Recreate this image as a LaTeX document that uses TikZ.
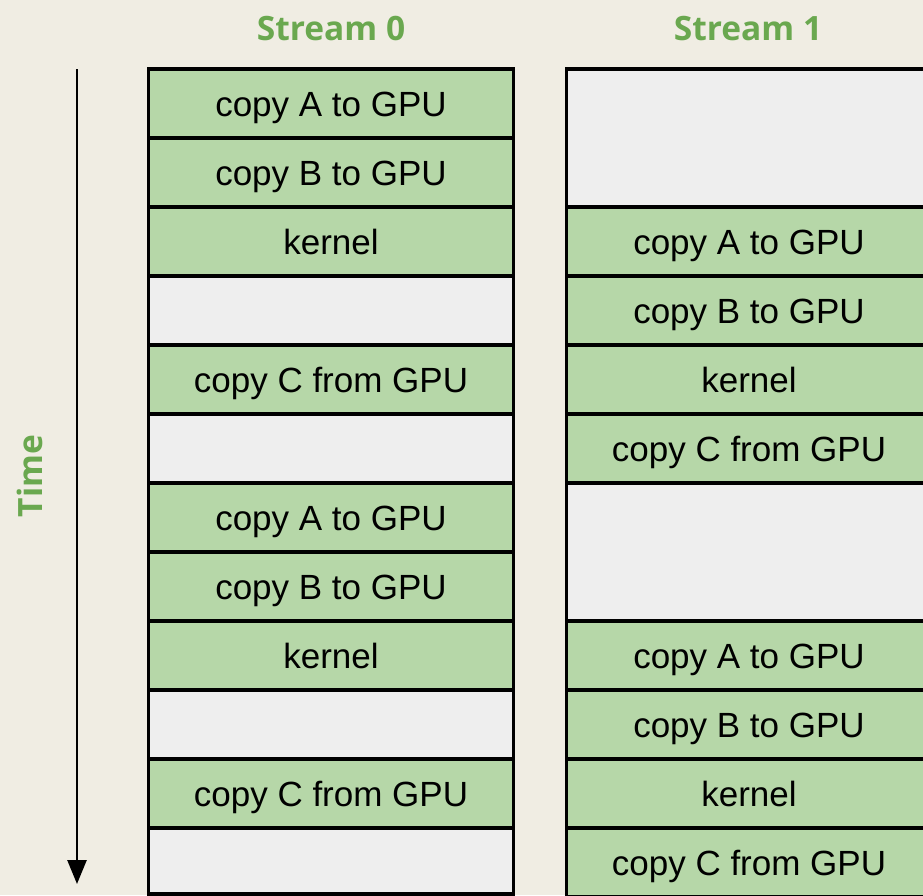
\documentclass[tikz,border=0pt]{standalone}
\usepackage{fontspec}
\usetikzlibrary{arrows.meta}
\newfontfamily\cellfont{Liberation Sans}
\newfontfamily\headfont{Open Sans}
\definecolor{bgbeige}{HTML}{F0EDE3}
\definecolor{busygreen}{HTML}{B6D7A8}
\definecolor{idlegrey}{HTML}{EEEEEE}
\definecolor{headgreen}{HTML}{6AA84F}
\begin{document}
\begin{tikzpicture}[x=1pt,y=-1pt,
  cellbox/.style={draw=black, line width=3.2pt, minimum width=365pt,
    inner sep=0pt, text height=28pt, text depth=3pt,
    font=\cellfont\fontsize{35}{40}\selectfont},
  busy/.style={cellbox, fill=busygreen, minimum height=69pt},
  idle/.style={cellbox, fill=idlegrey},
  headlabel/.style={text=headgreen, inner sep=0pt,
    font=\headfont\bfseries\fontsize{33.5}{40}\selectfont}]
  % canvas
  \fill[bgbeige] (0,0) rectangle (923,895);
  \useasboundingbox (0,0) rectangle (923,895);
  \begin{scope}
  \clip (0,0) rectangle (923,895);

  % stream headings
  \node[headlabel, anchor=base] (h0) at (331,40) {Stream 0};
  \node[headlabel, anchor=base] (h1) at (748,40) {Stream 1};

  % time axis
  \coordinate (tstart) at (77,69);
  \coordinate (tend) at (77,884);
  \draw[line width=2.6pt, -{Triangle[width=19pt,length=24pt]}] (tstart) -- (tend);
  \node[headlabel, rotate=90, anchor=base] (tlabel) at (42,476) {Time};

  % stream 0
  \node[busy] (a0) at (331,103.5) {copy A to GPU};
  \node[busy] (a1) at (331,172.5) {copy B to GPU};
  \node[busy] (a2) at (331,241.5) {kernel};
  \node[idle, minimum height=69pt] (a3) at (331,310.5) {};
  \node[busy] (a4) at (331,379.5) {copy C from GPU};
  \node[idle, minimum height=69pt] (a5) at (331,448.5) {};
  \node[busy] (a6) at (331,517.5) {copy A to GPU};
  \node[busy] (a7) at (331,586.5) {copy B to GPU};
  \node[busy] (a8) at (331,655.5) {kernel};
  \node[idle, minimum height=69pt] (a9) at (331,724.5) {};
  \node[busy] (a10) at (331,793.5) {copy C from GPU};
  \node[idle, minimum height=66pt] (a11) at (331,861) {};

  % stream 1
  \node[idle, minimum height=138pt] (b0) at (749,138) {};
  \node[busy] (b2) at (749,241.5) {copy A to GPU};
  \node[busy] (b3) at (749,310.5) {copy B to GPU};
  \node[busy] (b4) at (749,379.5) {kernel};
  \node[busy] (b5) at (749,448.5) {copy C from GPU};
  \node[idle, minimum height=138pt] (b6) at (749,552) {};
  \node[busy] (b8) at (749,655.5) {copy A to GPU};
  \node[busy] (b9) at (749,724.5) {copy B to GPU};
  \node[busy] (b10) at (749,793.5) {kernel};
  \node[busy] (b11) at (749,862.5) {copy C from GPU};
  \end{scope}
\end{tikzpicture}
\end{document}
